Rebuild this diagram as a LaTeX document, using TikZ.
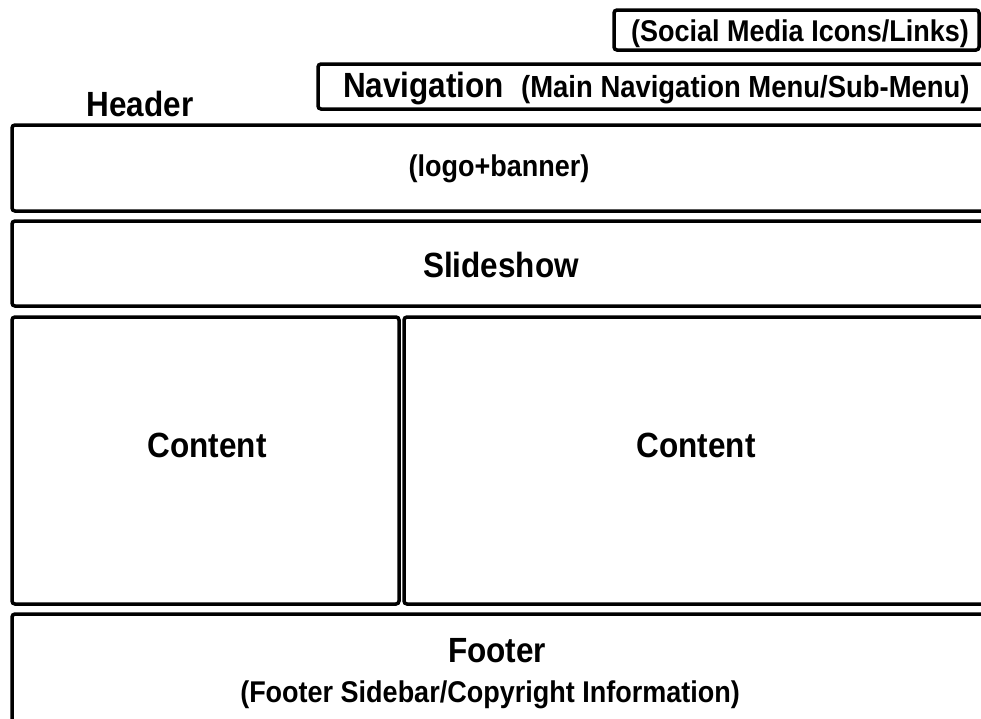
\documentclass[tikz,border=0pt]{standalone}
\usepackage{fontspec}
\setmainfont{Liberation Sans}[FakeStretch=0.9]
\usetikzlibrary{positioning}

\tikzset{
  panel/.style={draw, line width=3.5pt, rounded corners=3pt, inner sep=0pt, outer sep=0pt},
  bigtext/.style={font=\bfseries\fontsize{35}{40}\selectfont, inner sep=0pt, anchor=base},
  smalltext/.style={font=\bfseries\fontsize{30}{34}\selectfont, inner sep=0pt, anchor=base},
}

\begin{document}
\begin{tikzpicture}[x=1pt, y=-1pt]
    % Page frame (the boxes run past the right edge)
    \path [clip, use as bounding box] (0,0) rectangle (981,718);

    % Top bar
    \node (social) at (796.5,30) [panel, minimum width=365, minimum height=40] {};
    \node (socialtext) at (800,41) [smalltext] {(Social Media Icons/Links)};
    \node (nav) at (659,86.5) [panel, minimum width=682, minimum height=45] {};
    \node (navtext) at (343,97) [bigtext, anchor=base west]
        {Navigation\hspace{17pt}{\fontsize{30.5}{34}\selectfont(Main Navigation Menu/Sub-Menu)}};
    \node (headerlabel) at (140,116) [bigtext] {Header};

    % Page rows
    \node (header) at (499,168) [panel, minimum width=974, minimum height=86] {};
    \node (headertext) at (499,176) [smalltext] {(logo+banner)};
    \node (slideshow) at (499,263.5) [panel, minimum width=974, minimum height=85] {};
    \node (slideshowtext) at (501,277) [bigtext] {Slideshow};
    \node (contentA) at (205.5,460.5) [panel, minimum width=387, minimum height=287] {};
    \node (contentAtext) at (207,457) [bigtext] {Content};
    \node (contentB) at (695,460.5) [panel, minimum width=582, minimum height=287] {};
    \node (contentBtext) at (696,457) [bigtext] {Content};
    \node (footer) at (499,670) [panel, minimum width=974, minimum height=112] {};
    \node (footertitle) at (497,662) [bigtext] {Footer};
    \node (footerinfo) at (490,702) [smalltext] {(Footer Sidebar/Copyright Information)};
\end{tikzpicture}
\end{document}
